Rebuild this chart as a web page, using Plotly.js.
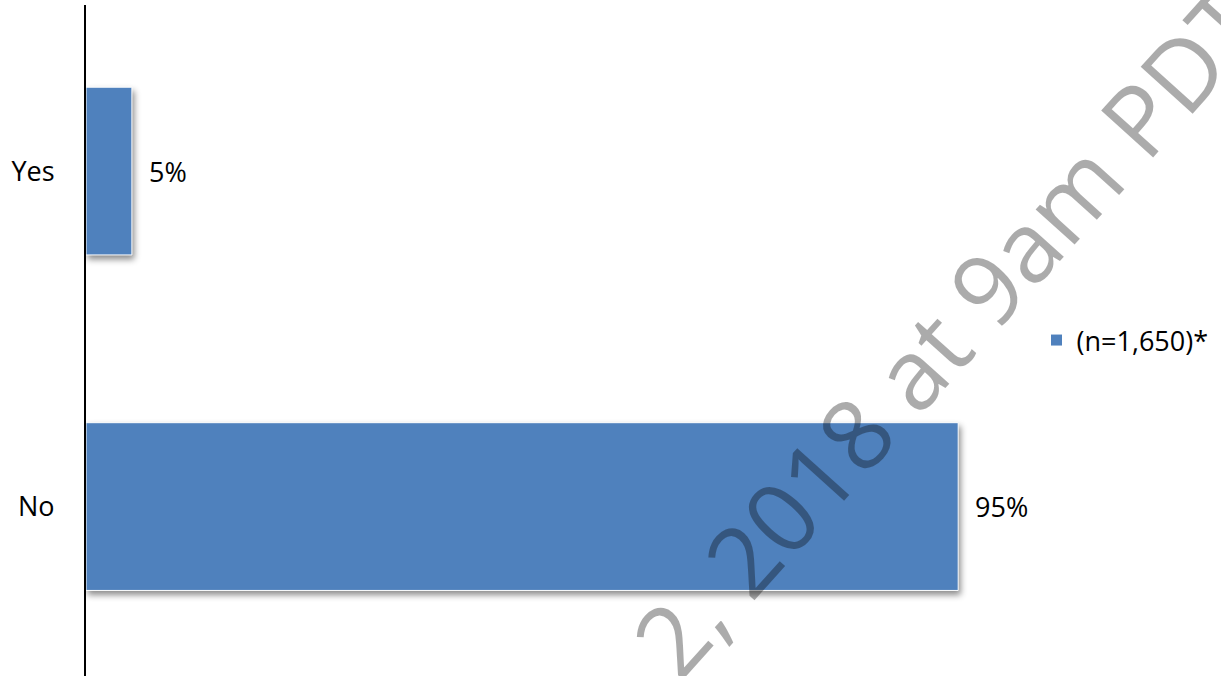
<!DOCTYPE html>
<html><head><meta charset="utf-8">
<script src="https://cdn.plot.ly/plotly-3.0.1.min.js"></script>
<style>
html,body{margin:0;padding:0;background:#fff;}
#chart{width:1221px;height:676px;}
.barlayer .point path{filter:drop-shadow(2px 4px 3px rgba(0,0,0,0.45));}
</style></head><body><div id="chart"></div>
<script>
const categories = ['No', 'Yes'];
const values = [95, 5];
const valueLabels = ['95%', '5%'];
const seriesName = '(n=1,650)*';
const watermarkText = '2, 2018 at 9am PDT';

const FONT = 'Open Sans, Noto Sans, sans-serif';

const trace = {
  type: 'bar',
  orientation: 'h',
  x: values,
  y: categories,
  name: seriesName,
  marker: {color: '#4f81bd', line: {color: '#ffffff', width: 1}},
  hoverinfo: 'skip',
  showlegend: true
};

const annotations = categories.map((c, i) => ({
  x: values[i], y: c, xref: 'x', yref: 'y',
  text: valueLabels[i], showarrow: false,
  xanchor: 'left', yanchor: 'middle', xshift: 15,
  font: {family: FONT, size: 27, color: '#000'}
}));

annotations.push({
  xref: 'paper', yref: 'paper', x: 0.893, y: 0.515,
  xanchor: 'center', yanchor: 'middle',
  text: watermarkText, showarrow: false, textangle: -48,
  font: {family: FONT, size: 98, color: 'rgba(0,0,0,0.33)'}
});

const layout = {
  width: 1221, height: 676,
  margin: {l: 86, r: 171, t: 5, b: 0, pad: 0},
  paper_bgcolor: '#fff', plot_bgcolor: '#fff',
  font: {family: FONT, size: 27, color: '#000'},
  bargap: 0.5,
  xaxis: {range: [0, 105], showgrid: false, zeroline: false, showticklabels: false, showline: false, ticks: ''},
  yaxis: {
    type: 'category', categoryorder: 'array', categoryarray: categories,
    range: [-0.505, 1.495], showgrid: false, zeroline: false,
    showline: true, linecolor: '#000', linewidth: 2,
    ticks: '', ticklabelstandoff: 24,
    tickfont: {family: FONT, size: 27, color: '#000'}
  },
  showlegend: true,
  legend: {x: 0.986, y: 0.5, xanchor: 'left', yanchor: 'middle',
           font: {family: FONT, size: 27, color: '#000'}, itemwidth: 30,
           bgcolor: 'rgba(0,0,0,0)'},
  annotations: annotations
};

Plotly.newPlot('chart', [trace], layout, {displayModeBar: false, staticPlot: true});
</script></body></html>
